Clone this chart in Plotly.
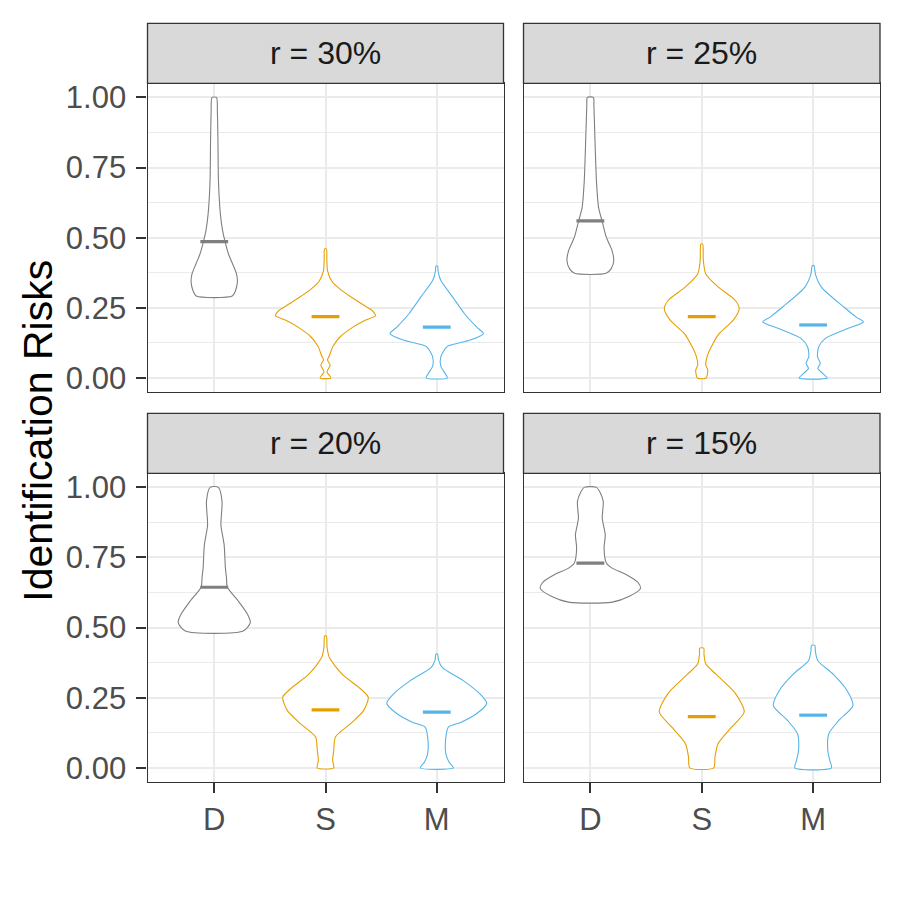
import numpy as np
import plotly.graph_objects as go

# facet labels and groups
panel_labels = ["r = 30%", "r = 25%", "r = 20%", "r = 15%"]
groups = ["D", "S", "M"]
group_colors = ["#7F7F7F", "#E69F00", "#56B4E9"]
y_ticks = [0, 0.25, 0.5, 0.75, 1.0]
y_tick_text = ["0.00", "0.25", "0.50", "0.75", "1.00"]

# violin outlines: risk level -> half width (x units)
r30_D_y = [0.292, 0.31, 0.342, 0.371, 0.407, 0.442, 0.486, 0.525, 0.585, 0.70, 0.85, 0.95, 1.00]
r30_D_w = [0.162, 0.19, 0.208, 0.20, 0.164, 0.128, 0.097, 0.075, 0.055, 0.038, 0.033, 0.028, 0.02]
r30_S_y = [0.0, 0.022, 0.045, 0.064, 0.08, 0.111, 0.146, 0.182, 0.206, 0.222, 0.24, 0.253, 0.283, 0.321, 0.345, 0.383, 0.42, 0.46]
r30_S_w = [0.048, 0.013, 0.042, 0.018, 0.036, 0.065, 0.13, 0.25, 0.356, 0.449, 0.42, 0.37, 0.25, 0.117, 0.057, 0.018, 0.012, 0.008]
r30_M_y = [0.0, 0.017, 0.041, 0.076, 0.111, 0.123, 0.135, 0.158, 0.182, 0.229, 0.288, 0.348, 0.38, 0.398]
r30_M_w = [0.095, 0.074, 0.037, 0.037, 0.09, 0.18, 0.30, 0.42, 0.357, 0.25, 0.144, 0.036, 0.012, 0.008]

r25_D_y = [0.373, 0.389, 0.418, 0.454, 0.501, 0.56, 0.607, 0.70, 0.87, 0.97, 1.00]
r25_D_w = [0.141, 0.186, 0.21, 0.195, 0.144, 0.105, 0.074, 0.055, 0.04, 0.032, 0.027]
r25_S_y = [0.0, 0.028, 0.046, 0.076, 0.111, 0.158, 0.206, 0.247, 0.277, 0.324, 0.371, 0.42, 0.477]
r25_S_w = [0.039, 0.054, 0.036, 0.048, 0.086, 0.156, 0.283, 0.336, 0.30, 0.149, 0.036, 0.014, 0.008]
r25_M_y = [0.0, 0.017, 0.034, 0.052, 0.076, 0.111, 0.141, 0.176, 0.20, 0.217, 0.253, 0.324, 0.37, 0.40]
r25_M_w = [0.126, 0.083, 0.042, 0.064, 0.039, 0.05, 0.11, 0.31, 0.452, 0.387, 0.275, 0.074, 0.02, 0.008]

r20_D_y = [0.488, 0.518, 0.547, 0.595, 0.644, 0.677, 0.713, 0.795, 0.866, 0.949, 1.00]
r20_D_w = [0.26, 0.324, 0.30, 0.216, 0.118, 0.11, 0.10, 0.089, 0.06, 0.07, 0.037]
r20_S_y = [0.0, 0.027, 0.063, 0.11, 0.157, 0.204, 0.252, 0.287, 0.334, 0.394, 0.43, 0.47]
r20_S_w = [0.074, 0.064, 0.074, 0.089, 0.223, 0.342, 0.384, 0.30, 0.149, 0.034, 0.014, 0.008]
r20_M_y = [0.0, 0.021, 0.050, 0.098, 0.145, 0.163, 0.193, 0.23, 0.264, 0.311, 0.358, 0.385, 0.405]
r20_M_w = [0.149, 0.11, 0.082, 0.079, 0.104, 0.22, 0.357, 0.449, 0.387, 0.238, 0.049, 0.015, 0.008]

r15_D_y = [0.591, 0.612, 0.639, 0.66, 0.689, 0.712, 0.73, 0.784, 0.831, 0.89, 0.949, 0.98, 1.00]
r15_D_w = [0.197, 0.35, 0.449, 0.43, 0.32, 0.195, 0.144, 0.123, 0.134, 0.107, 0.116, 0.09, 0.055]
r15_S_y = [0.0, 0.039, 0.086, 0.145, 0.199, 0.264, 0.334, 0.37, 0.405, 0.427]
r15_S_w = [0.107, 0.119, 0.146, 0.268, 0.381, 0.305, 0.127, 0.037, 0.02, 0.018]
r15_M_y = [0.0, 0.027, 0.063, 0.122, 0.169, 0.222, 0.275, 0.334, 0.382, 0.415, 0.437]
r15_M_w = [0.164, 0.149, 0.131, 0.141, 0.23, 0.357, 0.305, 0.179, 0.042, 0.02, 0.015]

# medians per panel, order D, S, M
r30_medians = [0.486, 0.219, 0.181]
r25_medians = [0.56, 0.219, 0.189]
r20_medians = [0.644, 0.207, 0.199]
r15_medians = [0.73, 0.183, 0.188]

profiles = [
    [(r30_D_y, r30_D_w), (r30_S_y, r30_S_w), (r30_M_y, r30_M_w)],
    [(r25_D_y, r25_D_w), (r25_S_y, r25_S_w), (r25_M_y, r25_M_w)],
    [(r20_D_y, r20_D_w), (r20_S_y, r20_S_w), (r20_M_y, r20_M_w)],
    [(r15_D_y, r15_D_w), (r15_S_y, r15_S_w), (r15_M_y, r15_M_w)],
]
medians = [r30_medians, r25_medians, r20_medians, r15_medians]

# layout in page pixels (page body has an 8px margin)
OFF = 8.0
W = H = 892.0
cols = [(147.5, 503.5), (523.5, 880.0)]
rows = [(81.0, 392.0), (474.0, 785.0)]
strip_h = 60.5
median_half = 0.125
font = "Liberation Sans, Arial, sans-serif"


def px_x(p):
    return (p - OFF) / W


def px_y(p):
    return 1 - (p - OFF) / H


fig = go.Figure()
shapes = []
annotations = []

for i, label in enumerate(panel_labels):
    r, c = divmod(i, 2)
    sfx = "" if i == 0 else str(i + 1)
    xa, ya = "x" + sfx, "y" + sfx

    for g in range(3):
        ys, ws = profiles[i][g]
        ys = np.array(ys)
        ws = np.array(ws)
        center = g + 1
        xs = np.concatenate([center + ws, (center - ws)[::-1], [center + ws[0]]])
        yy = np.concatenate([ys, ys[::-1], [ys[0]]])
        fig.add_trace(go.Scatter(
            x=xs, y=yy, xaxis=xa, yaxis=ya, mode="lines",
            line=dict(color=group_colors[g], width=1.1, shape="spline", smoothing=0.7),
            fill="toself", fillcolor="white", hoverinfo="skip",
        ))
        m = medians[i][g]
        fig.add_trace(go.Scatter(
            x=[center - median_half, center + median_half], y=[m, m],
            xaxis=xa, yaxis=ya, mode="lines",
            line=dict(color=group_colors[g], width=3.2), hoverinfo="skip",
        ))

    x0, x1 = cols[c]
    y0, y1 = rows[r]
    bottom = r == 1
    left = c == 0

    fig.layout["xaxis" + sfx] = dict(
        domain=[px_x(x0), px_x(x1)], anchor=ya, range=[0.4, 3.6],
        tickvals=[1, 2, 3], ticktext=groups, showticklabels=bottom,
        ticks="outside" if bottom else "", ticklen=10, tickwidth=1.8,
        tickcolor="#333333", ticklabelstandoff=0,
        tickfont=dict(family=font, size=31, color="#4D4D4D"),
        showgrid=True, gridcolor="#EBEBEB", gridwidth=2.4, zeroline=False,
        showline=True, mirror=True, linecolor="#333333", linewidth=1.3,
    )
    fig.layout["yaxis" + sfx] = dict(
        domain=[px_y(y1), px_y(y0)], anchor=xa, range=[-0.05, 1.05],
        tickvals=y_ticks, ticktext=y_tick_text, showticklabels=left,
        ticks="outside" if left else "", ticklen=10, tickwidth=1.8,
        tickcolor="#333333", ticklabelstandoff=4,
        tickfont=dict(family=font, size=31, color="#4D4D4D"),
        showgrid=True, gridcolor="#EBEBEB", gridwidth=2.4, zeroline=False,
        minor=dict(tickvals=[0.125, 0.375, 0.625, 0.875], showgrid=True,
                   gridcolor="#EBEBEB", gridwidth=1.2, ticks=""),
        showline=True, mirror=True, linecolor="#333333", linewidth=1.3,
    )

    # facet strip
    shapes.append(dict(
        type="rect", xref="paper", yref="paper",
        x0=px_x(x0), x1=px_x(x1), y0=px_y(y0), y1=px_y(y0 - strip_h),
        fillcolor="#D9D9D9", line=dict(color="#333333", width=1.3), layer="above",
    ))
    annotations.append(dict(
        text=label, xref="paper", yref="paper", showarrow=False,
        x=px_x((x0 + x1) / 2), y=px_y(y0 - strip_h / 2),
        xanchor="center", yanchor="middle",
        font=dict(family=font, size=32, color="#1A1A1A"),
    ))

annotations.append(dict(
    text="Identification Risks", xref="paper", yref="paper", showarrow=False,
    x=px_x(38), y=px_y(431), textangle=-90, xanchor="center", yanchor="middle",
    font=dict(family=font, size=41, color="black"),
))

fig.update_layout(
    width=892, height=892, margin=dict(l=0, r=0, t=0, b=0),
    plot_bgcolor="white", paper_bgcolor="white", showlegend=False,
    shapes=shapes, annotations=annotations, hovermode=False,
)

fig.write_html("out.html")
